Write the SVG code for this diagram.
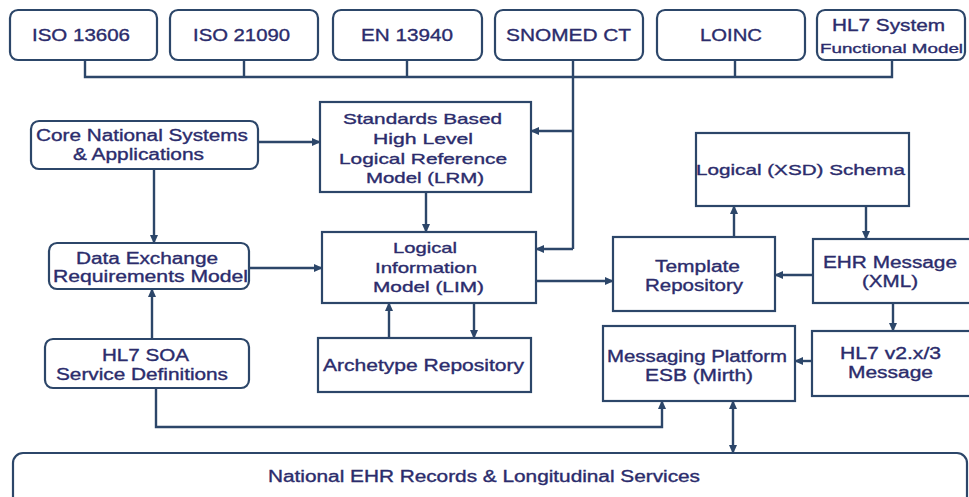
<svg xmlns="http://www.w3.org/2000/svg" width="969" height="497" viewBox="0 0 969 497">
  <style>
    .box { fill: #ffffff; stroke: #2c4669; stroke-width: 2.2; }
    .lbl { font-family: "Liberation Sans", Arial, sans-serif; font-size: 16px; fill: #2b2c6c; stroke: #2b2c6c; stroke-width: 0.35; text-anchor: middle; }
    .big { font-size: 17px; }
    .sm { font-size: 15px; }
    .xs { font-size: 13.5px; }
    .wire { fill: none; stroke: #2c4669; stroke-width: 2.4; }
  </style>
  <defs>
    <marker id="arrow" viewBox="0 0 10 10" refX="9" refY="5" markerWidth="9" markerHeight="9" markerUnits="userSpaceOnUse" orient="auto-start-reverse">
      <path d="M0,0.5 L10,5 L0,9.5 Z" fill="#2c4669"/>
    </marker>
  </defs>

  <rect width="969" height="497" fill="#ffffff"/>

  <!-- standards row -->
  <g id="iso13606">
    <rect class="box" x="10" y="10" width="147" height="50" rx="8"/>
    <text class="lbl big" x="81" y="41" textLength="98" lengthAdjust="spacingAndGlyphs">ISO 13606</text>
  </g>
  <g id="iso21090">
    <rect class="box" x="170" y="10" width="148" height="50" rx="8"/>
    <text class="lbl big" x="241.5" y="41" textLength="97" lengthAdjust="spacingAndGlyphs">ISO 21090</text>
  </g>
  <g id="en13940">
    <rect class="box" x="333" y="10" width="149" height="50" rx="8"/>
    <text class="lbl big" x="407" y="41" textLength="92" lengthAdjust="spacingAndGlyphs">EN 13940</text>
  </g>
  <g id="snomed">
    <rect class="box" x="495" y="10" width="148" height="50" rx="8"/>
    <text class="lbl big" x="568.5" y="41" textLength="125" lengthAdjust="spacingAndGlyphs">SNOMED CT</text>
  </g>
  <g id="loinc">
    <rect class="box" x="657" y="10" width="148" height="50" rx="8"/>
    <text class="lbl big" x="731" y="41" textLength="62" lengthAdjust="spacingAndGlyphs">LOINC</text>
  </g>
  <g id="hl7-sfm">
    <rect class="box" x="817" y="10" width="148" height="50" rx="8"/>
    <text class="lbl" x="888.5" y="31" textLength="113" lengthAdjust="spacingAndGlyphs">HL7 System</text>
    <text class="lbl xs" x="891.5" y="53" textLength="143" lengthAdjust="spacingAndGlyphs">Functional Model</text>
  </g>

  <!-- left column -->
  <g id="core-systems">
    <rect class="box" x="31" y="121" width="227" height="48" rx="8"/>
    <text class="lbl" x="142" y="141" textLength="212" lengthAdjust="spacingAndGlyphs">Core National Systems</text>
    <text class="lbl" x="138.5" y="160" textLength="131" lengthAdjust="spacingAndGlyphs">&amp; Applications</text>
  </g>
  <g id="data-exchange">
    <rect class="box" x="49" y="243" width="200" height="46" rx="8"/>
    <text class="lbl" x="147" y="264" textLength="142" lengthAdjust="spacingAndGlyphs">Data Exchange</text>
    <text class="lbl" x="150.5" y="282" textLength="195" lengthAdjust="spacingAndGlyphs">Requirements Model</text>
  </g>
  <g id="soa-services">
    <rect class="box" x="45" y="339" width="204" height="49" rx="8"/>
    <text class="lbl" x="145.5" y="361" textLength="87" lengthAdjust="spacingAndGlyphs">HL7 SOA</text>
    <text class="lbl" x="142" y="380" textLength="172" lengthAdjust="spacingAndGlyphs">Service Definitions</text>
  </g>

  <!-- centre column -->
  <g id="lrm">
    <rect class="box" x="320" y="102" width="211" height="90"/>
    <text class="lbl sm" x="422.5" y="124" textLength="159" lengthAdjust="spacingAndGlyphs">Standards Based</text>
    <text class="lbl sm" x="423" y="144" textLength="100" lengthAdjust="spacingAndGlyphs">High Level</text>
    <text class="lbl sm" x="423" y="164" textLength="168" lengthAdjust="spacingAndGlyphs">Logical Reference</text>
    <text class="lbl sm" x="425" y="183" textLength="118" lengthAdjust="spacingAndGlyphs">Model (LRM)</text>
  </g>
  <g id="lim">
    <rect class="box" x="322" y="232" width="214" height="71"/>
    <text class="lbl sm" x="425" y="253" textLength="64" lengthAdjust="spacingAndGlyphs">Logical</text>
    <text class="lbl sm" x="426" y="273" textLength="102" lengthAdjust="spacingAndGlyphs">Information</text>
    <text class="lbl sm" x="428.5" y="292" textLength="111" lengthAdjust="spacingAndGlyphs">Model (LIM)</text>
  </g>
  <g id="archetype-repo">
    <rect class="box" x="318" y="338" width="213" height="54"/>
    <text class="lbl" x="423.5" y="371" textLength="201" lengthAdjust="spacingAndGlyphs">Archetype Repository</text>
  </g>

  <!-- right side -->
  <g id="xsd-schema">
    <rect class="box" x="696" y="133" width="213" height="73"/>
    <text class="lbl sm" x="800.5" y="175" textLength="209" lengthAdjust="spacingAndGlyphs">Logical (XSD) Schema</text>
  </g>
  <g id="template-repo">
    <rect class="box" x="613" y="237" width="162" height="74"/>
    <text class="lbl" x="697.5" y="272" textLength="85" lengthAdjust="spacingAndGlyphs">Template</text>
    <text class="lbl" x="694" y="291" textLength="98" lengthAdjust="spacingAndGlyphs">Repository</text>
  </g>
  <g id="ehr-message">
    <rect class="box" x="813" y="239" width="170" height="64"/>
    <text class="lbl" x="890" y="268" textLength="134" lengthAdjust="spacingAndGlyphs">EHR Message</text>
    <text class="lbl" x="890" y="287" textLength="56" lengthAdjust="spacingAndGlyphs">(XML)</text>
  </g>
  <g id="esb">
    <rect class="box" x="603" y="326" width="192" height="75"/>
    <text class="lbl" x="697" y="362" textLength="180" lengthAdjust="spacingAndGlyphs">Messaging Platform</text>
    <text class="lbl" x="699" y="381" textLength="108" lengthAdjust="spacingAndGlyphs">ESB (Mirth)</text>
  </g>
  <g id="hl7-v2-message">
    <rect class="box" x="812" y="331" width="170" height="65"/>
    <text class="lbl" x="890.5" y="359" textLength="101" lengthAdjust="spacingAndGlyphs">HL7 v2.x/3</text>
    <text class="lbl" x="890.5" y="378" textLength="85" lengthAdjust="spacingAndGlyphs">Message</text>
  </g>

  <!-- bottom band -->
  <g id="national-ehr">
    <rect class="box" x="13" y="453" width="954" height="60" rx="10"/>
    <text class="lbl" x="484" y="482" textLength="432" lengthAdjust="spacingAndGlyphs">National EHR Records &amp; Longitudinal Services</text>
  </g>

  <!-- connectors -->
  <g id="connectors">
    <!-- standards bus -->
    <path class="wire" d="M85,60 V77 H892 V60 M244,60 V77 M407,60 V77 M735,60 V77"/>
    <path class="wire" d="M573,60 V249"/>
    <path class="wire" d="M573,131 H531" marker-end="url(#arrow)"/>
    <path class="wire" d="M573,249 H536" marker-end="url(#arrow)"/>

    <path class="wire" d="M258,142 H320" marker-end="url(#arrow)"/>
    <path class="wire" d="M154,169 V243" marker-end="url(#arrow)"/>
    <path class="wire" d="M249,268 H322" marker-end="url(#arrow)"/>
    <path class="wire" d="M152,339 V289" marker-end="url(#arrow)"/>
    <path class="wire" d="M426,192 V232" marker-end="url(#arrow)"/>
    <path class="wire" d="M474,303 V338" marker-end="url(#arrow)"/>
    <path class="wire" d="M389,338 V303" marker-end="url(#arrow)"/>
    <path class="wire" d="M536,281 H613" marker-end="url(#arrow)"/>
    <path class="wire" d="M734,237 V206" marker-end="url(#arrow)"/>
    <path class="wire" d="M866,206 V239" marker-end="url(#arrow)"/>
    <path class="wire" d="M813,275 H775" marker-end="url(#arrow)"/>
    <path class="wire" d="M893,303 V331" marker-end="url(#arrow)"/>
    <path class="wire" d="M812,361 H795" marker-end="url(#arrow)"/>
    <path class="wire" d="M156,388 V427 H662 V401" marker-end="url(#arrow)"/>
    <path class="wire" d="M733,401 V453" marker-start="url(#arrow)" marker-end="url(#arrow)"/>
  </g>
</svg>
